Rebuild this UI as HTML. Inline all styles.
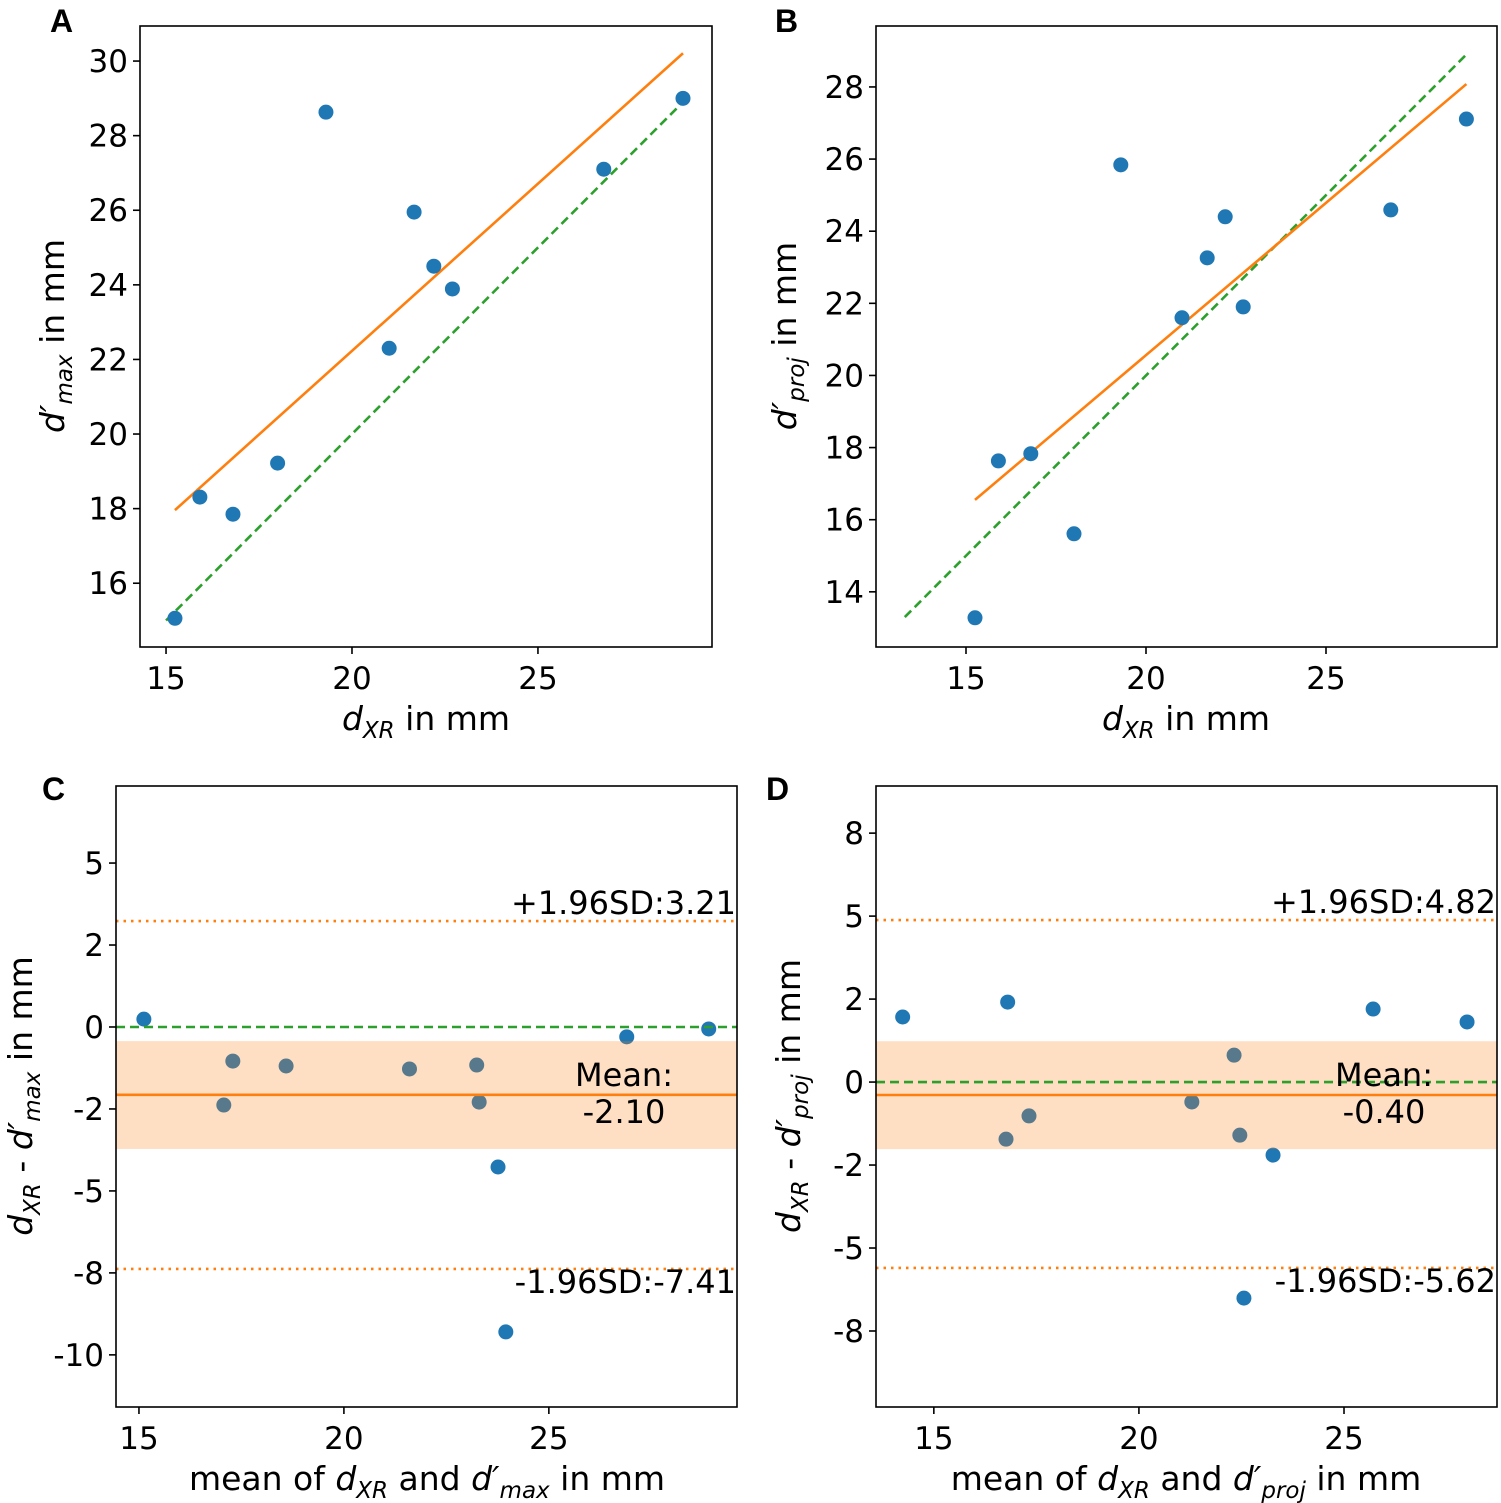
<!DOCTYPE html>
<html><head><meta charset="utf-8"><style>
body{margin:0;background:#fff}
svg{display:block;font-family:"DejaVu Sans","Liberation Sans",sans-serif}
</style></head><body>
<svg id="fig" width="1501" height="1503" viewBox="0 0 1501 1503"></svg>
<script>
// Panel A data
const aX=[15.24,15.91,16.8,18.0,19.3,21.0,21.67,22.2,22.7,26.77,28.9];
const aY=[15.06,18.31,17.85,19.22,28.63,22.30,25.95,24.50,23.89,27.10,29.0];
const aFit=[[15.24,17.96],[28.9,30.21]];
const aXTicks=[15,20,25];const aYTicks=[16,18,20,22,24,26,28,30];
// Panel B data
const bX=[15.25,15.9,16.8,18.0,19.3,21.0,21.7,22.2,22.7,26.8,28.9];
const bY=[13.28,17.63,17.83,15.61,25.84,21.6,23.26,24.40,21.9,24.59,27.11];
const bFit=[[15.25,16.55],[28.9,28.08]];
const bXTicks=[15,20,25];const bYTicks=[14,16,18,20,22,24,26,28];
// Panel C data
const cX=[15.12,17.07,17.29,18.59,21.6,23.24,23.3,23.76,23.95,26.9,28.9];
const cY=[0.24,-2.38,-1.04,-1.19,-1.28,-1.16,-2.29,-4.27,-9.3,-0.30,-0.06];
const cStats=[-2.07,3.23,-7.38,-0.43,-3.72];
const cTexts=["+1.96SD:3.21","-1.96SD:-7.41","Mean:","-2.10"];
const cYTicks=[5,2.5,0,-2.5,-5,-7.5,-10];const cYLabels=["5","2","0","-2","-5","-8","-10"];
const cXTicks=[15,20,25];
// Panel D data
const dX=[14.24,16.80,16.76,17.32,21.29,22.32,22.46,23.27,22.56,25.71,28.0];
const dY=[1.96,2.41,-1.72,-1.02,-0.60,0.81,-1.60,-2.20,-6.51,2.20,1.81];
const dStats=[-0.39,4.88,-5.60,1.23,-2.02];
const dTexts=["+1.96SD:4.82","-1.96SD:-5.62","Mean:","-0.40"];
const dYTicks=[7.5,5,2.5,0,-2.5,-5,-7.5];const dYLabels=["8","5","2","0","-2","-5","-8"];
const dXTicks=[15,20,25];

const svg=document.getElementById('fig');const NS='http://www.w3.org/2000/svg';
function mk(tag,at,parent,txt){const e=document.createElementNS(NS,tag);for(const k in at)e.setAttribute(k,at[k]);if(txt!==undefined)e.textContent=txt;(parent||svg).appendChild(e);return e;}
function panel(id,box,xd,yd){
 const g=mk('g',{});
 
 
 const sx=v=>box[0]+(v-xd[0])/(xd[1]-xd[0])*(box[2]-box[0]);
 const sy=v=>box[3]-(v-yd[0])/(yd[1]-yd[0])*(box[3]-box[1]);
 return {g,sx,sy,box};
}
function axes(P,xt,yt,yl,name){
 const {g,sx,sy,box}=P;
 const fr=mk('rect',{x:box[0],y:box[1],width:box[2]-box[0],height:box[3]-box[1],fill:'none',stroke:'#000','stroke-width':1.6},g);
 
 
 xt.forEach(v=>{mk('line',{x1:sx(v),x2:sx(v),y1:box[3],y2:box[3]+7,stroke:'#000','stroke-width':1.6},g);
  const t=mk('text',{x:sx(v),y:box[3]+42,'font-size':31,'text-anchor':'middle'},g,String(v));
  
  });
 yt.forEach((v,i)=>{mk('line',{x1:box[0]-7,x2:box[0],y1:sy(v),y2:sy(v),stroke:'#000','stroke-width':1.6},g);
  const t=mk('text',{x:box[0]-12,y:sy(v)+11,'font-size':31,'text-anchor':'end'},g,yl?yl[i]:String(v));
  
  });
}
function dots(P,xs,ys,name){xs.forEach((x,i)=>{const c=mk('circle',{cx:P.sx(x),cy:P.sy(ys[i]),r:7.5,fill:'#1f77b4'},P.g);
 
 });}
function line(P,p,color,dash,name){const l=mk('line',{x1:P.sx(p[0][0]),y1:P.sy(p[0][1]),x2:P.sx(p[1][0]),y2:P.sy(p[1][1]),stroke:color,'stroke-width':2.6,'stroke-dasharray':dash||'none'},P.g);
 
 }
function label(x,y,html,rot,name){const t=mk('text',{x:x,y:y,'font-size':33,'text-anchor':'middle',transform:rot?`rotate(-90 ${x} ${y})`:''});t.innerHTML=html;
 
 }
function letter(x,y,s){const t=mk('text',{x:x,y:y,'font-size':32,'font-weight':'bold','font-family':'Liberation Sans,sans-serif'},svg,s);
 
 }
const sub=s=>`<tspan font-size="23" dy="8" font-style="italic">${s}</tspan><tspan dy="-8"> </tspan>`;
const dxr=`<tspan font-style="italic">d</tspan>${sub('XR')}`;
const dp=s=>`<tspan font-style="italic">d′</tspan>${sub(s)}`;

// A
const A=panel('a',[140,26,712,647],[14.30,29.68],[14.29,30.94]);
axes(A,aXTicks,aYTicks,null,'a');
line(A,[[15,15],[29,29]],'#2ca02c','9,5','a-identity-line');
line(A,aFit,'#ff7f0e',null,'a-fit-line');
dots(A,aX,aY,'a');
label(426,730,dxr+'in mm',false,'a-x-axis-title');
label(64,336,dp('max')+'in mm',true,'a-y-axis-title');
// B
const B=panel('b',[876,26,1497,647],[12.5,29.75],[12.47,29.69]);
axes(B,bXTicks,bYTicks,null,'b');
line(B,[[13.3,13.3],[28.9,28.9]],'#2ca02c','9,5','b-identity-line');
line(B,bFit,'#ff7f0e',null,'b-fit-line');
dots(B,bX,bY,'b');
label(1186,730,dxr+'in mm',false,'b-x-axis-title');
label(796,336,dp('proj')+'in mm',true,'b-y-axis-title');
// Bland-Altman
function ba(P,xs,ys,st,tx,xt,yt,yl,name){
 const {g,sx,sy,box}=P;
 dots(P,xs,ys,name);
 const band=mk('rect',{x:box[0],y:sy(st[3]),width:box[2]-box[0],height:sy(st[4])-sy(st[3]),fill:'#ff7f0e','fill-opacity':0.25},g);
 
 
 line(P,[[0,0],[1,0]],'#2ca02c','9,5',name+'-zero-line');
 g.lastChild.setAttribute('x1',box[0]);g.lastChild.setAttribute('x2',box[2]);
 mk('line',{x1:box[0],x2:box[2],y1:sy(st[0]),y2:sy(st[0]),stroke:'#ff7f0e','stroke-width':2.6},g);
 [st[1],st[2]].forEach(v=>mk('line',{x1:box[0],x2:box[2],y1:sy(v),y2:sy(v),stroke:'#ff7f0e','stroke-width':2.6,'stroke-dasharray':'2.5,5'},g));
 mk('text',{x:box[2]-1,y:sy(st[1])-7,'font-size':32,'text-anchor':'end'},g,tx[0]);
 mk('text',{x:box[2]-1,y:sy(st[2])+24,'font-size':32,'text-anchor':'end'},g,tx[1]);
 const mx=box[2]-113;
 mk('text',{x:mx,y:sy(st[0])-9,'font-size':32,'text-anchor':'middle'},g,tx[2]);
 mk('text',{x:mx,y:sy(st[0])+28,'font-size':32,'text-anchor':'middle'},g,tx[3]);
 axes(P,xt,yt,yl,name);
}
const C=panel('c',[116,786,737,1407],[14.44,29.59],[-11.59,7.35]);
ba(C,cX,cY,cStats,cTexts,cXTicks,cYTicks,cYLabels,'c');
label(427,1490,'mean of '+dxr+'and '+dp('max')+'in mm',false,'c-x-axis-title');
label(32,1096,dxr+'- '+dp('max')+'in mm',true,'c-y-axis-title');
const D=panel('d',[876,786,1497,1407],[13.59,28.73],[-9.79,8.92]);
ba(D,dX,dY,dStats,dTexts,dXTicks,dYTicks,dYLabels,'d');
label(1186,1490,'mean of '+dxr+'and '+dp('proj')+'in mm',false,'d-x-axis-title');
label(800,1096,dxr+'- '+dp('proj')+'in mm',true,'d-y-axis-title');
letter(50,32,'A');letter(775,32,'B');letter(42,800,'C');letter(766,800,'D');
</script>
</body></html>
